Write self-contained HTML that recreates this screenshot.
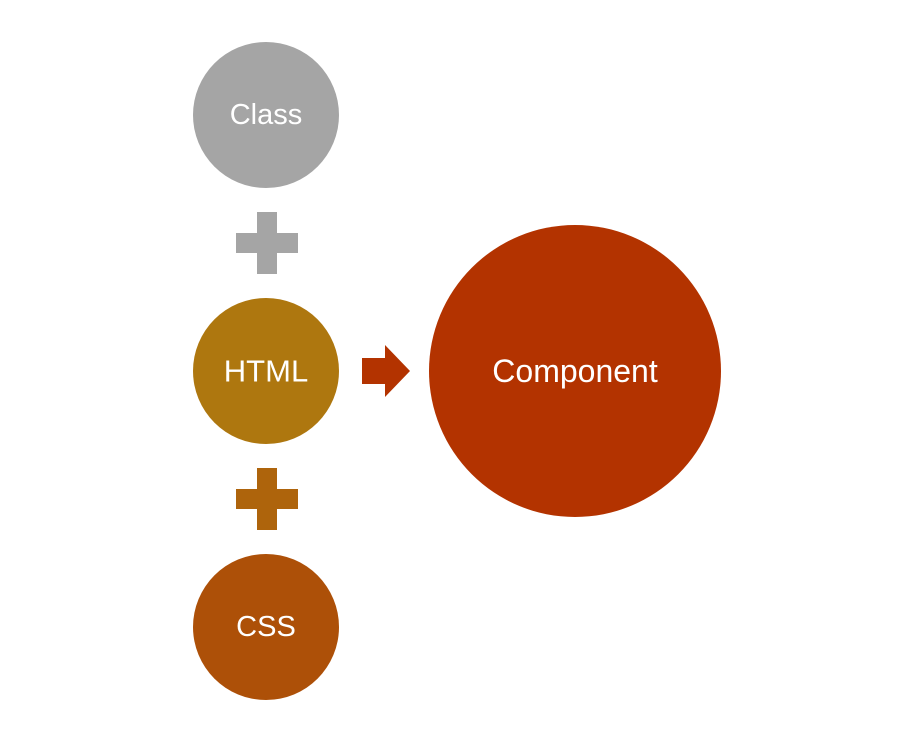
<!DOCTYPE html>
<html><head><style>
html,body{margin:0;padding:0;background:#fff;width:916px;height:747px;overflow:hidden}
text{font-family:"Liberation Sans",sans-serif;fill:#fff;text-anchor:middle;dominant-baseline:central}
</style></head><body>
<svg width="916" height="747" viewBox="0 0 916 747">
<circle cx="266" cy="115" r="73" fill="#a5a5a5"/>
<text x="266" y="115" font-size="29">Class</text>
<path d="M257 212h20v21h21v20h-21v21h-20v-21h-21v-20h21z" fill="#a5a5a5"/>
<circle cx="266" cy="371" r="73" fill="#ae770f"/>
<text x="266" y="371" font-size="31">HTML</text>
<path d="M257 468h20v21h21v20h-21v21h-20v-21h-21v-20h21z" fill="#ae640c"/>
<circle cx="266" cy="627" r="73" fill="#ad5008"/>
<text x="266" y="627" font-size="29">CSS</text>
<path d="M362 358h23v-13l25 26l-25 26v-13h-23z" fill="#b33300"/>
<circle cx="575" cy="371" r="146" fill="#b33300"/>
<text x="575" y="371" font-size="32">Component</text>
</svg>
</body></html>
